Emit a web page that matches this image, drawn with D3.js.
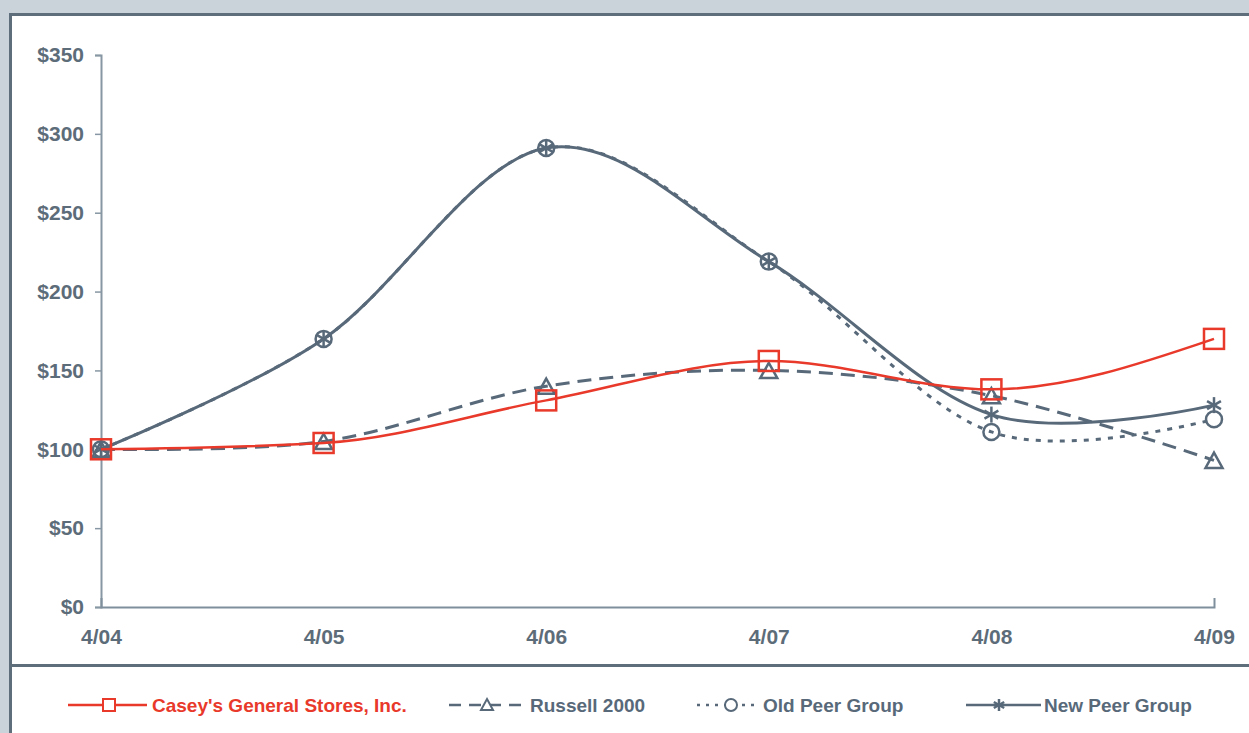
<!DOCTYPE html>
<html>
<head>
<meta charset="utf-8">
<script src="https://cdn.jsdelivr.net/npm/d3@7/dist/d3.min.js"></script>
<style>
  html, body { margin: 0; padding: 0; background: #cad2da; }
  svg { display: block; font-family: "Liberation Sans", Arial, sans-serif; }
</style>
</head>
<body>
<div id="chart"></div>
<script>
// data
var periods = ["4/04", "4/05", "4/06", "4/07", "4/08", "4/09"];
var caseys = [100, 104, 131, 156, 138, 170];
var russell = [100, 105, 140, 150, 134, 93];
var oldPeer = [100, 170, 291, 219, 111, 119];
var newPeer = [100, 170, 291, 219, 122, 128];
var yTicks = [0, 50, 100, 150, 200, 250, 300, 350];
var seriesNames = ["Casey's General Stores, Inc.", "Russell 2000", "Old Peer Group", "New Peer Group"];

var W = 1249, H = 733;
var red = "#e8392b", dark = "#58697a", textCol = "#5d6c79";

var svg = d3.select("#chart").append("svg")
    .attr("width", W)
    .attr("height", H);

// background and framed panel
svg.append("rect").attr("width", W).attr("height", H).attr("fill", "#cad2da");
svg.append("rect")
    .attr("x", 10.5).attr("y", 14.5)
    .attr("width", W + 10).attr("height", H)
    .attr("fill", "#ffffff")
    .attr("stroke", "#5e6e7a")
    .attr("stroke-width", 3);
svg.append("line")
    .attr("x1", 10).attr("x2", W)
    .attr("y1", 665.5).attr("y2", 665.5)
    .attr("stroke", "#5e6e7a")
    .attr("stroke-width", 3);

var x = d3.scalePoint().domain(periods).range([101, 1214]);
var y = d3.scaleLinear().domain([0, 350]).range([607, 55]);

// Y Axis
var yAxis = svg.append("g")
    .attr("transform", "translate(101,0)")
    .call(d3.axisLeft(y).tickValues(yTicks).tickSize(6).tickPadding(11)
        .tickFormat(function (d) { return "$" + d; }));
yAxis.select(".domain").attr("stroke", "#8797a3").attr("stroke-width", 2);
yAxis.selectAll(".tick line").attr("stroke", "#8797a3").attr("stroke-width", 1.5);

// X Axis
var xAxis = svg.append("g")
    .attr("transform", "translate(0,607)")
    .call(d3.axisBottom(x).tickSizeInner(0).tickSizeOuter(-9).tickPadding(22));
xAxis.select(".domain").attr("stroke", "#7f8f9b").attr("stroke-width", 2);

svg.selectAll(".tick text")
    .attr("fill", textCol)
    .attr("font-size", "21px")
    .attr("font-weight", "bold")
    .attr("font-family", "'Liberation Sans', Arial, sans-serif");

function pts(vals) {
    return vals.map(function (v, i) { return [x(periods[i]), y(v)]; });
}

var smooth = d3.line().curve(d3.curveCatmullRom.alpha(0));
var monotone = d3.line().curve(d3.curveMonotoneX);

// marker drawing
function square(g, cx, cy, s, col) {
    g.append("rect").attr("x", cx - s / 2).attr("y", cy - s / 2)
        .attr("width", s).attr("height", s)
        .attr("fill", "none").attr("stroke", col).attr("stroke-width", 2.5);
}
function triangle(g, cx, cy, s, col) {
    var h = s * 0.9;
    g.append("path")
        .attr("d", "M" + cx + "," + (cy - h / 2) + "L" + (cx + s / 2) + "," + (cy + h / 2) + "L" + (cx - s / 2) + "," + (cy + h / 2) + "Z")
        .attr("fill", "none").attr("stroke", col).attr("stroke-width", 2.5);
}
function circle(g, cx, cy, r, col) {
    g.append("circle").attr("cx", cx).attr("cy", cy).attr("r", r)
        .attr("fill", "none").attr("stroke", col).attr("stroke-width", 2.5);
}
function star(g, cx, cy, s, col) {
    var r = s / 2;
    [0, 60, 120].forEach(function (a) {
        var rad = a * Math.PI / 180;
        g.append("line")
            .attr("x1", cx - r * Math.sin(rad)).attr("y1", cy - r * Math.cos(rad))
            .attr("x2", cx + r * Math.sin(rad)).attr("y2", cy + r * Math.cos(rad))
            .attr("stroke", col).attr("stroke-width", 2.5);
    });
}

var plot = svg.append("g");

// New Peer Group
plot.append("path").attr("d", smooth(pts(newPeer)))
    .attr("fill", "none").attr("stroke", dark).attr("stroke-width", 3);
// Old Peer Group
plot.append("path").attr("d", smooth(pts(oldPeer)))
    .attr("fill", "none").attr("stroke", dark).attr("stroke-width", 3)
    .attr("stroke-dasharray", "5,7");
// Russell 2000
plot.append("path").attr("d", smooth(pts(russell)))
    .attr("fill", "none").attr("stroke", dark).attr("stroke-width", 3)
    .attr("stroke-dasharray", "14,8");

pts(newPeer).forEach(function (p) { star(plot, p[0], p[1], 16, dark); });
pts(oldPeer).forEach(function (p) { circle(plot, p[0], p[1], 8, dark); });
pts(russell).forEach(function (p) { triangle(plot, p[0], p[1], 17, dark); });

// Casey's
plot.append("path").attr("d", monotone(pts(caseys)))
    .attr("fill", "none").attr("stroke", red).attr("stroke-width", 2.5);
pts(caseys).forEach(function (p) { square(plot, p[0], p[1], 20, red); });

// legend
var legend = svg.append("g");
var legendItems = [
    { name: seriesNames[0], x0: 68, x1: 147, mx: 109, tx: 152, col: red, dash: null, mark: "square" },
    { name: seriesNames[1], x0: 449, x1: 527, mx: 487, tx: 530, col: dark, dash: "12,8", mark: "triangle" },
    { name: seriesNames[2], x0: 697, x1: 760, mx: 731, tx: 763, col: dark, dash: "3,6", mark: "circle" },
    { name: seriesNames[3], x0: 966, x1: 1041, mx: 999, tx: 1044, col: dark, dash: null, mark: "star" }
];
var ly = 705;
legendItems.forEach(function (d) {
    var l = legend.append("line")
        .attr("x1", d.x0).attr("x2", d.x1).attr("y1", ly).attr("y2", ly)
        .attr("stroke", d.col).attr("stroke-width", 2.5);
    if (d.dash) l.attr("stroke-dasharray", d.dash);
    if (d.mark === "square") {
        legend.append("rect").attr("x", d.mx - 6).attr("y", ly - 6).attr("width", 12).attr("height", 12)
            .attr("fill", "#fff").attr("stroke", d.col).attr("stroke-width", 2);
    } else if (d.mark === "triangle") {
        legend.append("path").attr("d", "M" + d.mx + "," + (ly - 6) + "L" + (d.mx + 6) + "," + (ly + 5) + "L" + (d.mx - 6) + "," + (ly + 5) + "Z")
            .attr("fill", "#fff").attr("stroke", d.col).attr("stroke-width", 2);
    } else if (d.mark === "circle") {
        legend.append("circle").attr("cx", d.mx).attr("cy", ly).attr("r", 6)
            .attr("fill", "#fff").attr("stroke", d.col).attr("stroke-width", 2);
    } else {
        star(legend, d.mx, ly, 12, d.col);
    }
    legend.append("text")
        .attr("x", d.tx).attr("y", ly + 7)
        .attr("fill", d.col)
        .attr("font-size", "19px")
        .attr("font-weight", "bold")
        .text(d.name);
});
</script>
</body>
</html>
